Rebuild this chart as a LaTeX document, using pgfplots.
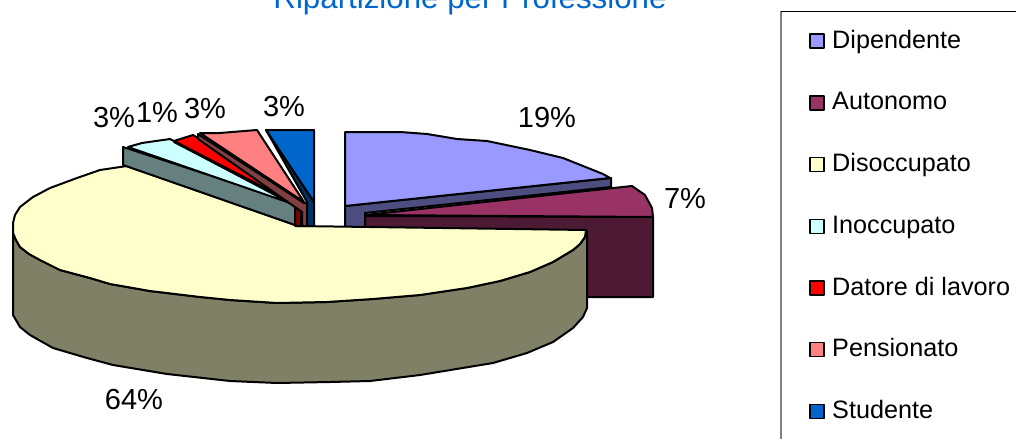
\documentclass[border=0pt]{standalone}
\usepackage{pgfplots}
\pgfplotsset{compat=1.18}
\usepackage{fontspec}
\setmainfont{Liberation Sans}
\definecolor{cDip}{HTML}{9999FF}\definecolor{sDip}{HTML}{4D4D80}
\definecolor{cAut}{HTML}{993366}\definecolor{sAut}{HTML}{4D1A33}
\definecolor{cDis}{HTML}{FFFFCC}\definecolor{sDis}{HTML}{808066}
\definecolor{cIno}{HTML}{CCFFFF}\definecolor{sIno}{HTML}{668080}
\definecolor{cDat}{HTML}{FF0000}\definecolor{sDat}{HTML}{800000}
\definecolor{cPen}{HTML}{FF8080}\definecolor{sPen}{HTML}{804040}
\definecolor{cStu}{HTML}{0066CC}\definecolor{sStu}{HTML}{003366}
\begin{document}
\begin{tikzpicture}
\useasboundingbox (0,0) rectangle (1016pt,439pt);
\begin{axis}[
  scale only axis, width=1016pt, height=439pt,
  xmin=0, xmax=1016, ymin=0, ymax=439, y dir=reverse,
  axis lines=none, clip=false,
  legend style={at={(axis cs:809,30)}, anchor=north west, draw=none, fill=none,
    inner sep=0pt, font=\fontsize{25.2}{25.2}\selectfont, row sep=37.7pt,
    nodes={text height=18pt, text depth=6pt, inner sep=0pt, anchor=base west},
    /tikz/column 1/.style={column sep=7.5pt}},
  legend cell align=left,
  legend image code/.code={\draw[#1, line width=1.5pt] (0pt,0pt) rectangle (14pt,14pt);},
  every axis plot/.append style={draw=black, line width=2pt, line join=round},
]
% Dipendente
\addplot[fill=sDip, forget plot] coordinates {(345,206)(611,178)(611,187)(365,213)(365,228)(345,228)} -- cycle;
\addplot[fill=cDip] coordinates {(345,132)(400,132)(427,134)(457,139)(487,141)(530,150)(563,158)(593,170)(603,174)(610,178)(345,206)} -- cycle;
% Autonomo
\addplot[fill=sAut, forget plot] coordinates {(365,216)(653,217)(653,297)(365,297)} -- cycle;
\addplot[fill=cAut] coordinates {(365,215)(632,186)(645,195)(652,208)(653,217)} -- cycle;
% Disoccupato
\addplot[fill=sDis, forget plot] coordinates {(13,233)(16,240)(20,247)(29,254)(40,260)(60,270)(90,278)(110,284)(150,291)(200,297)(230,300)(277,303)(327,302)(373,299)(420,295)(467,288)(500,281)(530,272)(553,262)(573,250)(580,244)(585,237)(587,231)(587,308)(583,317)(573,328)(553,342)(527,353)(493,363)(420,375)(370,381)(330,382)(277,383)(230,381)(167,374)(113,365)(87,358)(53,348)(30,335)(20,327)(13,315)} -- cycle;
\addplot[fill=cDis] coordinates {(298,226)(586,230)(585,237)(580,244)(573,250)(553,262)(530,272)(500,281)(467,288)(420,295)(373,299)(327,302)(277,303)(230,300)(200,297)(150,291)(110,284)(90,278)(60,270)(40,260)(29,254)(20,247)(16,240)(13,233)(13,223)(15,215)(20,207)(33,197)(50,188)(77,178)(100,170)(127,166)} -- cycle;
% Inoccupato
\addplot[fill=sIno, forget plot] coordinates {(123,147)(295,203)(295,225)(123,165)} -- cycle;
\addplot[fill=cIno] coordinates {(128,147)(142,143)(170,139)(290,203)} -- cycle;
% Datore di lavoro
\addplot[fill=sDat, forget plot] coordinates {(174,142)(298,205)(301,205)(301,226)(295,226)(295,205)} -- cycle;
\addplot[fill=cDat] coordinates {(174,141)(193,135)(300,203)(296,204)} -- cycle;
% Pensionato
\addplot[fill=sPen, forget plot] coordinates {(198,134)(304,203)(307,203)(307,226)(302,226)(302,212)(198,139)} -- cycle;
\addplot[fill=cPen] coordinates {(200,133)(220,133)(257,130)(304,202)} -- cycle;
% Studente
\addplot[fill=sStu, forget plot] coordinates {(266,130)(314,202)(314,226)(307,226)(307,202)} -- cycle;
\addplot[fill=cStu] coordinates {(266,130)(314,130)(314,202)} -- cycle;
\legend{Dipendente,Autonomo,Disoccupato,Inoccupato,Datore di lavoro,Pensionato,Studente}
\def\lab{\fontsize{29}{29}\selectfont}
\node[font=\lab] at (axis cs:547,118) {19\%};
\node[font=\lab] at (axis cs:685,199) {7\%};
\node[font=\lab] at (axis cs:134,400) {64\%};
\node[font=\lab] at (axis cs:114,118) {3\%};
\node[font=\lab] at (axis cs:157,113) {1\%};
\node[font=\lab] at (axis cs:205,109) {3\%};
\node[font=\lab] at (axis cs:284,107) {3\%};
\node[font=\fontsize{31.3}{31.3}\selectfont, text=cStu, anchor=base] at (axis cs:470,9) {Ripartizione per Professione};
\draw[gray, line width=1.5pt] (axis cs:781,439) -- (axis cs:781,11);
\draw[black, line width=0.8pt] (axis cs:781,11) -- (axis cs:1016,11);
\end{axis}
\end{tikzpicture}
\end{document}
